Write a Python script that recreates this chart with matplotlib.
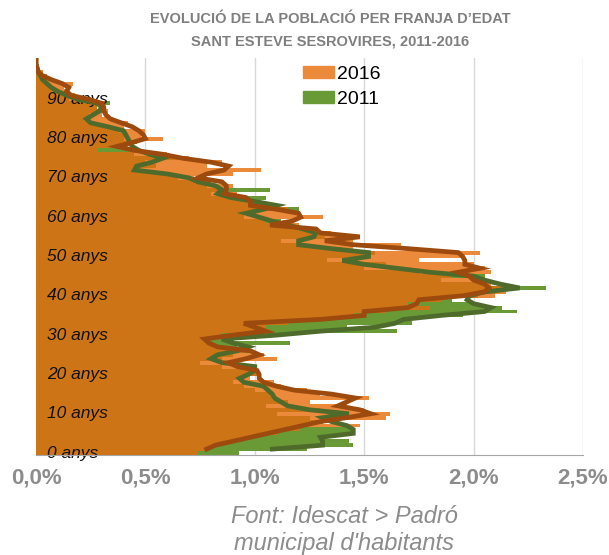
import matplotlib
matplotlib.use("Agg")
import matplotlib.pyplot as plt
from matplotlib.patches import Patch
from matplotlib.transforms import blended_transform_factory
import numpy as np

ages = list(range(0, 101))

bars_2016 = [0.74, 0.78, 0.82, 0.92, 0.98, 1.10, 1.20, 1.48, 1.30, 1.60,
             1.62, 1.50, 1.42, 1.25, 1.52, 1.30, 1.24, 1.12, 1.09, 0.98,
             1.02, 1.00, 0.92, 0.87, 1.10, 1.04, 0.95, 0.84, 0.80, 0.76,
             0.85, 1.07, 1.05, 1.15, 1.33, 1.45, 1.60, 1.80, 1.70, 1.85,
             2.10, 2.15, 2.13, 2.08, 2.05, 1.90, 2.08, 2.05, 2.00, 1.75,
             1.95, 2.03, 1.45, 1.67, 1.45, 1.45, 1.35, 1.25, 1.20, 1.05,
             1.31, 1.20, 1.15, 0.98, 1.00, 0.95, 0.92, 0.85, 0.90, 0.80,
             0.72, 0.90, 1.03, 0.78, 0.85, 0.70, 0.60, 0.28, 0.40, 0.42,
             0.58, 0.48, 0.50, 0.40, 0.42, 0.35, 0.30, 0.33, 0.28, 0.32,
             0.25, 0.18, 0.14, 0.13, 0.17, 0.08, 0.05, 0.03, 0.01, 0.01,
             0.0]

bars_2011 = [0.93, 1.24, 1.45, 1.43, 1.30, 1.45, 1.45, 1.20, 1.31, 1.25,
             1.10, 1.30, 1.05, 1.15, 1.08, 1.07, 1.00, 0.95, 0.90, 0.95,
             1.02, 1.00, 0.85, 0.75, 0.85, 0.90, 0.98, 0.92, 1.16, 0.85,
             1.10, 1.65, 1.42, 1.72, 1.70, 1.95, 2.20, 2.13, 2.00, 1.90,
             2.02, 2.10, 2.33, 2.05, 1.85, 2.05, 1.75, 1.50, 1.60, 1.33,
             1.50, 1.55, 1.40, 1.20, 1.12, 1.32, 1.30, 1.25, 1.08, 1.12,
             0.95, 1.00, 1.20, 1.10, 0.97, 1.05, 0.80, 1.07, 0.78, 0.76,
             0.65, 0.60, 0.45, 0.55, 0.50, 0.67, 0.45, 0.46, 0.38, 0.46,
             0.40, 0.42, 0.38, 0.34, 0.25, 0.22, 0.24, 0.30, 0.28, 0.34,
             0.15, 0.15, 0.10, 0.07, 0.06, 0.03, 0.02, 0.01, 0.0, 0.0,
             0.0]

line_ages = list(range(1, 101))

line_2016 = [0.78, 0.82, 0.90, 0.98, 1.06, 1.14, 1.22, 1.30, 1.42,
             1.53, 1.48, 1.38, 1.42, 1.46, 1.35, 1.18, 1.10, 1.04, 1.02,
             1.02, 1.01, 0.92, 0.88, 0.96, 1.02, 0.98, 0.83, 0.79, 0.77,
             0.90, 1.05, 1.00, 0.95, 1.30, 1.50, 1.50, 1.70, 1.74, 1.75,
             1.95, 2.05, 2.07, 2.05, 2.00, 1.98, 1.93, 2.03, 1.96, 1.96,
             1.95, 1.93, 1.70, 1.45, 1.32, 1.48, 1.30, 1.28, 1.07, 1.17,
             1.21, 1.20, 1.10, 0.98, 0.98, 0.96, 0.86, 0.87, 0.87, 0.85,
             0.74, 0.78, 0.86, 0.88, 0.80, 0.67, 0.58, 0.45, 0.37, 0.44,
             0.50, 0.49, 0.47, 0.44, 0.39, 0.34, 0.32, 0.31, 0.31, 0.30,
             0.24, 0.16, 0.14, 0.15, 0.12, 0.07, 0.03, 0.01, 0.005, 0.0,
             0.0]

line_2011 = [1.08, 1.31, 1.31, 1.30, 1.45, 1.45, 1.42, 1.35, 1.31,
             1.43, 1.25, 1.15, 1.12, 1.09, 1.08, 1.06, 1.04, 0.95, 0.93,
             0.97, 1.00, 1.00, 0.85, 0.80, 0.83, 0.92, 0.97, 0.90, 0.85,
             1.10, 1.30, 1.55, 1.64, 1.68, 1.85, 2.05, 2.08, 2.00, 1.97,
             1.98, 2.05, 2.21, 2.12, 2.05, 2.00, 1.80, 1.65, 1.50, 1.40,
             1.52, 1.52, 1.35, 1.20, 1.20, 1.27, 1.28, 1.22, 1.15, 1.08,
             1.02, 0.96, 1.04, 1.10, 1.00, 0.89, 0.83, 0.85, 0.82, 0.74,
             0.70, 0.60, 0.45, 0.46, 0.53, 0.58, 0.52, 0.47, 0.44, 0.43,
             0.42, 0.41, 0.40, 0.33, 0.25, 0.23, 0.26, 0.29, 0.30, 0.28,
             0.19, 0.14, 0.10, 0.07, 0.05, 0.03, 0.02, 0.01, 0.005, 0.0,
             0.0]

age_label_values = [0, 10, 20, 30, 40, 50, 60, 70, 80, 90]
age_labels = ["0 anys", "10 anys", "20 anys", "30 anys", "40 anys",
              "50 anys", "60 anys", "70 anys", "80 anys", "90 anys"]
x_ticks = [0.0, 0.5, 1.0, 1.5, 2.0, 2.5]
x_tick_labels = ["0,0%", "0,5%", "1,0%", "1,5%", "2,0%", "2,5%"]

title = "EVOLUCIÓ DE LA POBLACIÓ PER FRANJA D\u2019EDAT\nSANT ESTEVE SESROVIRES, 2011-2016"
source = "Font: Idescat > Padró\nmunicipal d'habitants"

plt.rcParams['font.family'] = ['Liberation Sans', 'DejaVu Sans']

c_light = "#EC8A3B"
c_green = "#6A9A35"
c_dark = "#CD7416"
c_brown = "#9C4A0E"
c_dgreen = "#4F6B2B"

fig = plt.figure(figsize=(6.09, 5.55), dpi=100)
ax = fig.add_axes([36/609, 1 - 455/555, (583-36)/609, (455-58)/555])

b16 = np.array(bars_2016)
b11 = np.array(bars_2011)
ax.barh(ages, b16, height=1.0, color=c_light, linewidth=0, zorder=2)
ax.barh(ages, b11, height=1.0, color=c_green, linewidth=0, zorder=3)
ax.barh(ages, np.minimum(b16, b11), height=1.0, color=c_dark, linewidth=0, zorder=4)

ax.plot(line_2011, line_ages, color=c_dgreen, lw=3.4, zorder=7, solid_joinstyle='miter')
ax.plot(line_2016, line_ages, color=c_brown, lw=3.4, zorder=8, solid_joinstyle='miter')

ax.set_xlim(0, 2.5)
ax.set_ylim(-0.5, 100.5)
ax.set_xticks(x_ticks)
ax.set_xticklabels(x_tick_labels, fontsize=16, fontweight='bold', color='#8C8C8C')
ax.tick_params(axis='x', length=0, pad=9)
ax.set_yticks([])
ax.grid(axis='x', color='#D9D9D9', lw=1, zorder=1)
for sp in ['left', 'right', 'top']:
    ax.spines[sp].set_visible(False)
ax.spines['bottom'].set_color('#A6A6A6')
ax.spines['bottom'].set_zorder(10)

tr = blended_transform_factory(ax.transAxes, ax.transData)
for v, lab in zip(age_label_values, age_labels):
    ax.text(0.02, v, lab, transform=tr, ha='left', va='center', fontsize=12.5,
            fontstyle='italic', color='#111111', zorder=6)

handles = [Patch(color=c_light, label="2016"), Patch(color=c_green, label="2011")]
ax.legend(handles=handles, loc='upper left', bbox_to_anchor=(0.488, 0.98), frameon=False,
          fontsize=14, handlelength=1.6, handleheight=0.6, handletextpad=0.15, labelspacing=0.4,
          borderaxespad=0, borderpad=0)

fig.text(330/609, 1 - 30/555, title, ha='center', va='center', fontsize=10.5, fontweight='bold',
         color='#7F7F7F', linespacing=1.75)
fig.text(344/609, 1 - 530/555, source, ha='center', va='center', fontsize=17,
         fontstyle='italic', color='#8C8C8C', linespacing=1.25)

fig.savefig("out.png", dpi=100)
